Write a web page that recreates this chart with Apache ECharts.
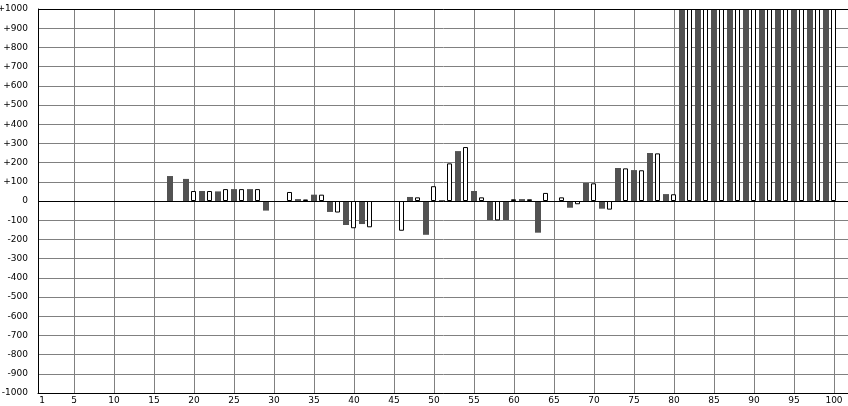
<!DOCTYPE html>
<html><head><meta charset="utf-8">
<script src="https://cdn.jsdelivr.net/npm/echarts@6/dist/echarts.min.js"></script>
<style>html,body{margin:0;padding:0;background:#fff;overflow:hidden}#c{width:848px;height:406px}</style>
</head><body><div id="c"></div>
<script>
// x positions 1..100
const positions = Array.from({length: 100}, (_, i) => i + 1);
// value for each position (null = no bar)
const values = [
  null, null, null, null, null, null, null, null, null, null,   // 1-10
  null, null, null, null, null, null, 130, null, 115, 52,      // 11-20
  52, 52, 50, 62, 62, 62, 62, 62, -50, null,                   // 21-30
  null, 47, 10, 8, 33, 33, -57, -60, -125, -142,               // 31-40
  -120, -137, null, null, null, -155, 21, 19, -176, 77,        // 41-50
  5, 196, 260, 281, 52, 19, -99, -101, -99, 9,                 // 51-60
  10, 9, -165, 42, null, 19, -35, -17, 94, 92,                 // 61-70
  -40, -45, 172, 170, 161, 160, 250, 248, 36, 35,              // 71-80
  1000, 1000, 1000, 1000, 1000, 1000, 1000, 1000, 1000, 1000,  // 81-90
  1000, 1000, 1000, 1000, 1000, 1000, 1000, 1000, 1000, 1000   // 91-100
];
const xTickLabels = [1, 5, 10, 15, 20, 25, 30, 35, 40, 45, 50, 55, 60, 65, 70, 75, 80, 85, 90, 95, 100];
const xGridTicks = [5, 10, 15, 20, 25, 30, 35, 40, 45, 50, 55, 60, 65, 70, 75, 80, 85, 90, 95, 100];
const yMin = -1000, yMax = 1000, yStep = 100;

const darkData = [], whiteData = [];
positions.forEach((p, i) => {
  const v = values[i];
  if (v === null) return;
  (p % 2 === 1 ? darkData : whiteData).push([p, v]);
});

const font = 'DejaVu Sans';
const chart = echarts.init(document.getElementById('c'), null, {renderer: 'canvas'});
chart.setOption({
  animation: false,
  backgroundColor: '#fff',
  grid: {left: 38, right: -2, top: 9, bottom: 13, containLabel: false, outerBoundsMode: 'none'},
  xAxis: {
    type: 'value', min: 0.5, max: 102,
    axisLine: {show: true, onZero: false, lineStyle: {color: '#000', width: 1}},
    axisTick: {show: false, customValues: xGridTicks},
    axisLabel: {customValues: xTickLabels, color: '#000', fontFamily: font, fontSize: 9, margin: 3,
      hideOverlap: false},
    splitLine: {show: true, showMinLine: true, showMaxLine: true, lineStyle: {color: '#808080', width: 1}}
  },
  yAxis: {
    type: 'value', min: yMin, max: yMax, interval: yStep,
    axisLine: {show: true, lineStyle: {color: '#000', width: 1}},
    axisTick: {show: false},
    axisLabel: {color: '#000', fontFamily: font, fontSize: 9, margin: 10,
      showMinLabel: true, showMaxLabel: true, hideOverlap: false,
      formatter: v => (v > 0 ? '+' + v : String(v))},
    splitLine: {show: true, lineStyle: {color: '#808080', width: 1}}
  },
  series: [
    {
      type: 'bar', data: whiteData, barWidth: 5, barGap: '-100%', z: 2,
      itemStyle: {color: '#fff', borderColor: '#000', borderWidth: 1},
      markLine: {
        silent: true, symbol: 'none', label: {show: false},
        lineStyle: {color: '#000', width: 1, type: 'solid'},
        data: [{yAxis: 0}, {yAxis: yMax}]
      }
    },
    {
      type: 'bar', data: darkData, barWidth: 6, barGap: '-100%', z: 2,
      itemStyle: {color: '#525252'}
    }
  ]
});
</script></body></html>
